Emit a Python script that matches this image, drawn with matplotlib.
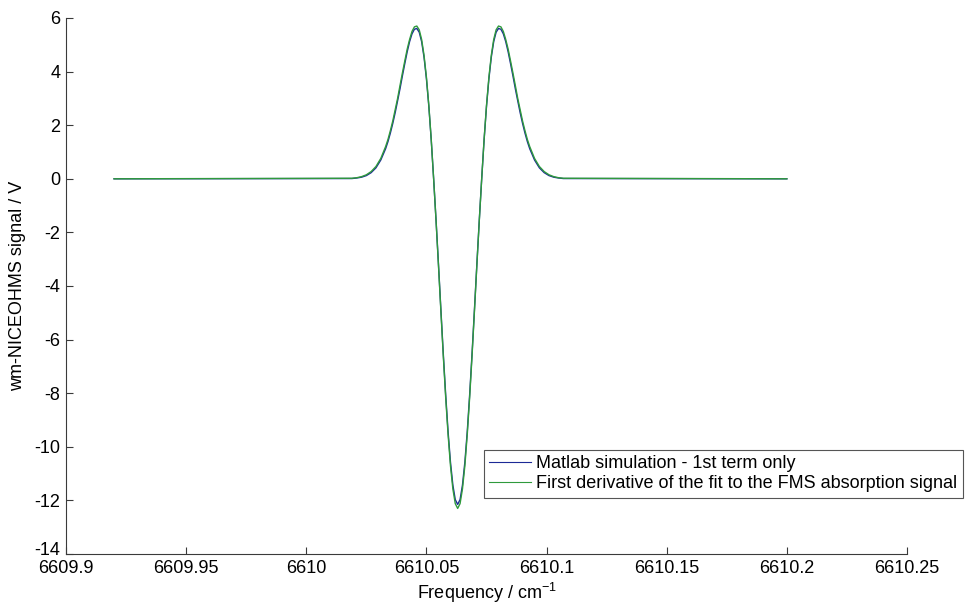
import numpy as np
import matplotlib
matplotlib.use("Agg")
import matplotlib.pyplot as plt
import matplotlib.transforms as mtransforms

# frequency grid (cm^-1)
freq = [6609.92,
        6610.019, 6610.021, 6610.023, 6610.025, 6610.027, 6610.029, 6610.031,
        6610.033, 6610.034, 6610.035, 6610.036, 6610.037, 6610.038, 6610.039,
        6610.040, 6610.041, 6610.042, 6610.043, 6610.044, 6610.045, 6610.046,
        6610.047, 6610.048, 6610.049, 6610.050, 6610.051, 6610.052, 6610.053,
        6610.054, 6610.055, 6610.056, 6610.057, 6610.058, 6610.059, 6610.060,
        6610.061, 6610.062, 6610.063, 6610.064, 6610.065, 6610.066, 6610.067,
        6610.068, 6610.069, 6610.070, 6610.071, 6610.072, 6610.073, 6610.074,
        6610.075, 6610.076, 6610.077, 6610.078, 6610.079, 6610.080, 6610.081,
        6610.082, 6610.083, 6610.084, 6610.085, 6610.086, 6610.087, 6610.088,
        6610.089, 6610.090, 6610.091, 6610.092, 6610.093,
        6610.095, 6610.097, 6610.099, 6610.101, 6610.103, 6610.105, 6610.107,
        6610.20]

# Matlab simulation - 1st term only
sim = [0.0,
       0.01, 0.03, 0.06, 0.12, 0.23, 0.41, 0.70,
       1.12, 1.39, 1.71, 2.07, 2.47, 2.91, 3.36,
       3.84, 4.30, 4.74, 5.12, 5.41, 5.58, 5.61,
       5.47, 5.12, 4.54, 3.73, 2.70, 1.45, 0.0,
       -1.54, -3.17, -4.85, -6.50, -8.04, -9.42, -10.57,
       -11.43, -11.97, -12.15, -11.97, -11.43, -10.57, -9.42,
       -8.04, -6.50, -4.85, -3.17, -1.54, 0.0, 1.45,
       2.70, 3.73, 4.54, 5.12, 5.47, 5.61, 5.58,
       5.41, 5.12, 4.74, 4.30, 3.84, 3.36, 2.91,
       2.47, 2.07, 1.71, 1.39, 1.12,
       0.70, 0.41, 0.23, 0.12, 0.06, 0.03, 0.01,
       0.0]

# First derivative of the fit to the FMS absorption signal
fit = [0.0,
       0.02, 0.04, 0.08, 0.15, 0.27, 0.46, 0.76,
       1.20, 1.47, 1.80, 2.16, 2.58, 3.00, 3.48,
       3.95, 4.40, 4.84, 5.20, 5.50, 5.67, 5.70,
       5.56, 5.20, 4.61, 3.79, 2.74, 1.47, 0.0,
       -1.56, -3.21, -4.91, -6.58, -8.14, -9.53, -10.70,
       -11.57, -12.12, -12.30, -12.12, -11.57, -10.70, -9.53,
       -8.14, -6.58, -4.91, -3.21, -1.56, 0.0, 1.47,
       2.74, 3.79, 4.61, 5.20, 5.56, 5.70, 5.67,
       5.50, 5.20, 4.84, 4.40, 3.95, 3.48, 3.00,
       2.58, 2.16, 1.80, 1.47, 1.20,
       0.76, 0.46, 0.27, 0.15, 0.08, 0.04, 0.02,
       0.0]

xticks = [6609.9, 6609.95, 6610.0, 6610.05, 6610.1, 6610.15, 6610.2, 6610.25]
xticklabels = ["6609.9", "6609.95", "6610", "6610.05", "6610.1",
               "6610.15", "6610.2", "6610.25"]
yticks = [-14, -12, -10, -8, -6, -4, -2, 0, 2, 4, 6]

plt.rcParams["font.family"] = ["Liberation Sans", "DejaVu Sans"]
plt.rcParams["mathtext.default"] = "regular"
plt.rcParams["axes.unicode_minus"] = False

fig = plt.figure(figsize=(9.69, 6.07), dpi=100)
ax = fig.add_axes([66 / 969, 1 - 554 / 607, (907 - 66) / 969, (554 - 18) / 607])

ax.plot(freq, sim, color="#1c2a96", linewidth=1.0,
        label="Matlab simulation - 1st term only")
ax.plot(freq, fit, color="#2f9a3c", linewidth=1.0,
        label="First derivative of the fit to the FMS absorption signal")

ax.set_xlim(6609.9, 6610.25)
ax.set_ylim(-14, 6)
ax.set_xticks(xticks)
ax.set_xticklabels(xticklabels)
ax.set_yticks(yticks)

ax.spines["top"].set_visible(False)
ax.spines["right"].set_visible(False)
for side in ("left", "bottom"):
    ax.spines[side].set_color("#3a3a3a")
    ax.spines[side].set_linewidth(0.8)
ax.tick_params(direction="in", length=5, width=0.8, color="#3a3a3a",
               labelsize=13, pad=4)

# the bottom y label sits a little above the axis corner, as in the original
low = ax.get_yticklabels()[0]
low.set_transform(low.get_transform() +
                  mtransforms.ScaledTranslation(0, 4 / 72, fig.dpi_scale_trans))

ax.set_xlabel("Frequency / cm$^{-1}$", fontsize=13, labelpad=3)
ax.set_ylabel("wm-NICEOHMS signal / V", fontsize=13, labelpad=6)

leg = ax.legend(loc="upper left", bbox_to_anchor=(484 / 969, 1 - 450 / 607),
                bbox_transform=fig.transFigure, borderaxespad=0,
                fontsize=13, handlelength=2.3, handletextpad=0.3,
                borderpad=0.3, labelspacing=0.15, fancybox=False,
                framealpha=1)
leg.get_frame().set_edgecolor("#555555")
leg.get_frame().set_linewidth(0.8)
for line in leg.get_lines():
    line.set_linewidth(0.8)

fig.savefig("out.png", dpi=100)
